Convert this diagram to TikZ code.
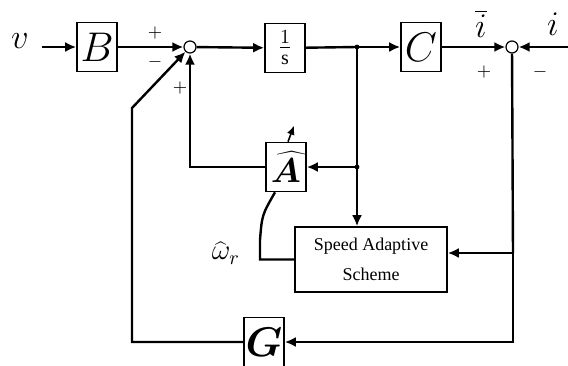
\documentclass[tikz,border=0pt]{standalone}
\usepackage{fontspec}
\setmainfont{Liberation Serif}
\usepackage{bm}
\usetikzlibrary{arrows.meta}

\begin{document}
\begin{tikzpicture}[x=0.5pt,y=-0.5pt,line width=1.2pt,>={Latex[length=5.5pt,width=5pt]},
    blk/.style={draw,line width=0.8pt,inner sep=0pt,minimum width=20pt,minimum height=24.5pt,font=\huge},
    sumnode/.style={draw,circle,line width=0.6pt,inner sep=0pt,minimum size=6pt},
    sgn/.style={font=\small}]
  \useasboundingbox (0,0) rectangle (568,365);

  % forward path
  \node[font=\LARGE] (v) at (20,41) {$v$};
  \coordinate (vin) at (42,47);
  \node[blk] (B) at (97,47) {$B$};
  \node[sumnode] (s1) at (190,47) {};
  \node[blk,font=\Large] (int) at (285,48) {$\frac{1}{\mathrm{s}}$};
  \coordinate (j1) at (357,47);
  \node[blk] (C) at (421,47) {$C$};
  \node[sumnode] (s2) at (512,47) {};
  \coordinate (iin) at (568,47);
  \node[font=\LARGE] (ibar) at (481,24) {$\overline{i}$};
  \node[font=\LARGE] (imeas) at (553,24) {$i$};

  % observer part
  \node[blk,font=\LARGE] (A) at (286,167) {$\widehat{\bm{A}}$};
  \coordinate (j2) at (357,167);
  \node[draw,line width=0.8pt,minimum width=76pt,minimum height=32.5pt,align=center,font=\small]
    (ads) at (371,259.5) {Speed Adaptive\\[4pt]Scheme};
  \coordinate (j3) at (513,253);
  \coordinate (wr) at (260,240);
  \node[font=\Large] (wlab) at (226,253) {$\widehat{\omega}_r$};
  \node[blk] (G) at (264,342) {$\bm{G}$};
  \coordinate (fb) at (132,108);

  % signs
  \node[sgn] (p1) at (155,33) {$+$};
  \node[sgn] (m1) at (155,62) {$-$};
  \node[sgn] (p2) at (180,88) {$+$};
  \node[sgn] (p3) at (484,72) {$+$};
  \node[sgn] (m2) at (540,72) {$-$};

  % connections
  \draw[->] (vin) -- (B);
  \draw[->] (B) -- (s1);
  \draw[->] (s1) -- (int);
  \draw (int) -- (j1);
  \draw[->] (j1) -- (C);
  \draw[->] (C) -- (s2);
  \draw[->] (iin) -- (s2);
  \draw[->] (j1) -- (j1 |- ads.north);
  \draw[->] (j2) -- (A);
  \draw[->] (A) -| (s1);
  \draw (s2) -- (j3);
  \draw[->] (j3) -- (ads.east |- j3);
  \draw[->] (j3) |- (G);
  \draw[->] (G) -| (fb) -- (s1);
  \draw (ads.west) -| (wr) .. controls (262,215) .. ([xshift=-5.5pt]A.south);
  \draw[->,line width=0.8pt,>={Latex[length=4.5pt,width=4pt]}] ([xshift=1pt]A.north) -- ++(6,-16);
  \fill (j1) circle (1.2pt);
  \fill (j2) circle (1.2pt);
\end{tikzpicture}
\end{document}
